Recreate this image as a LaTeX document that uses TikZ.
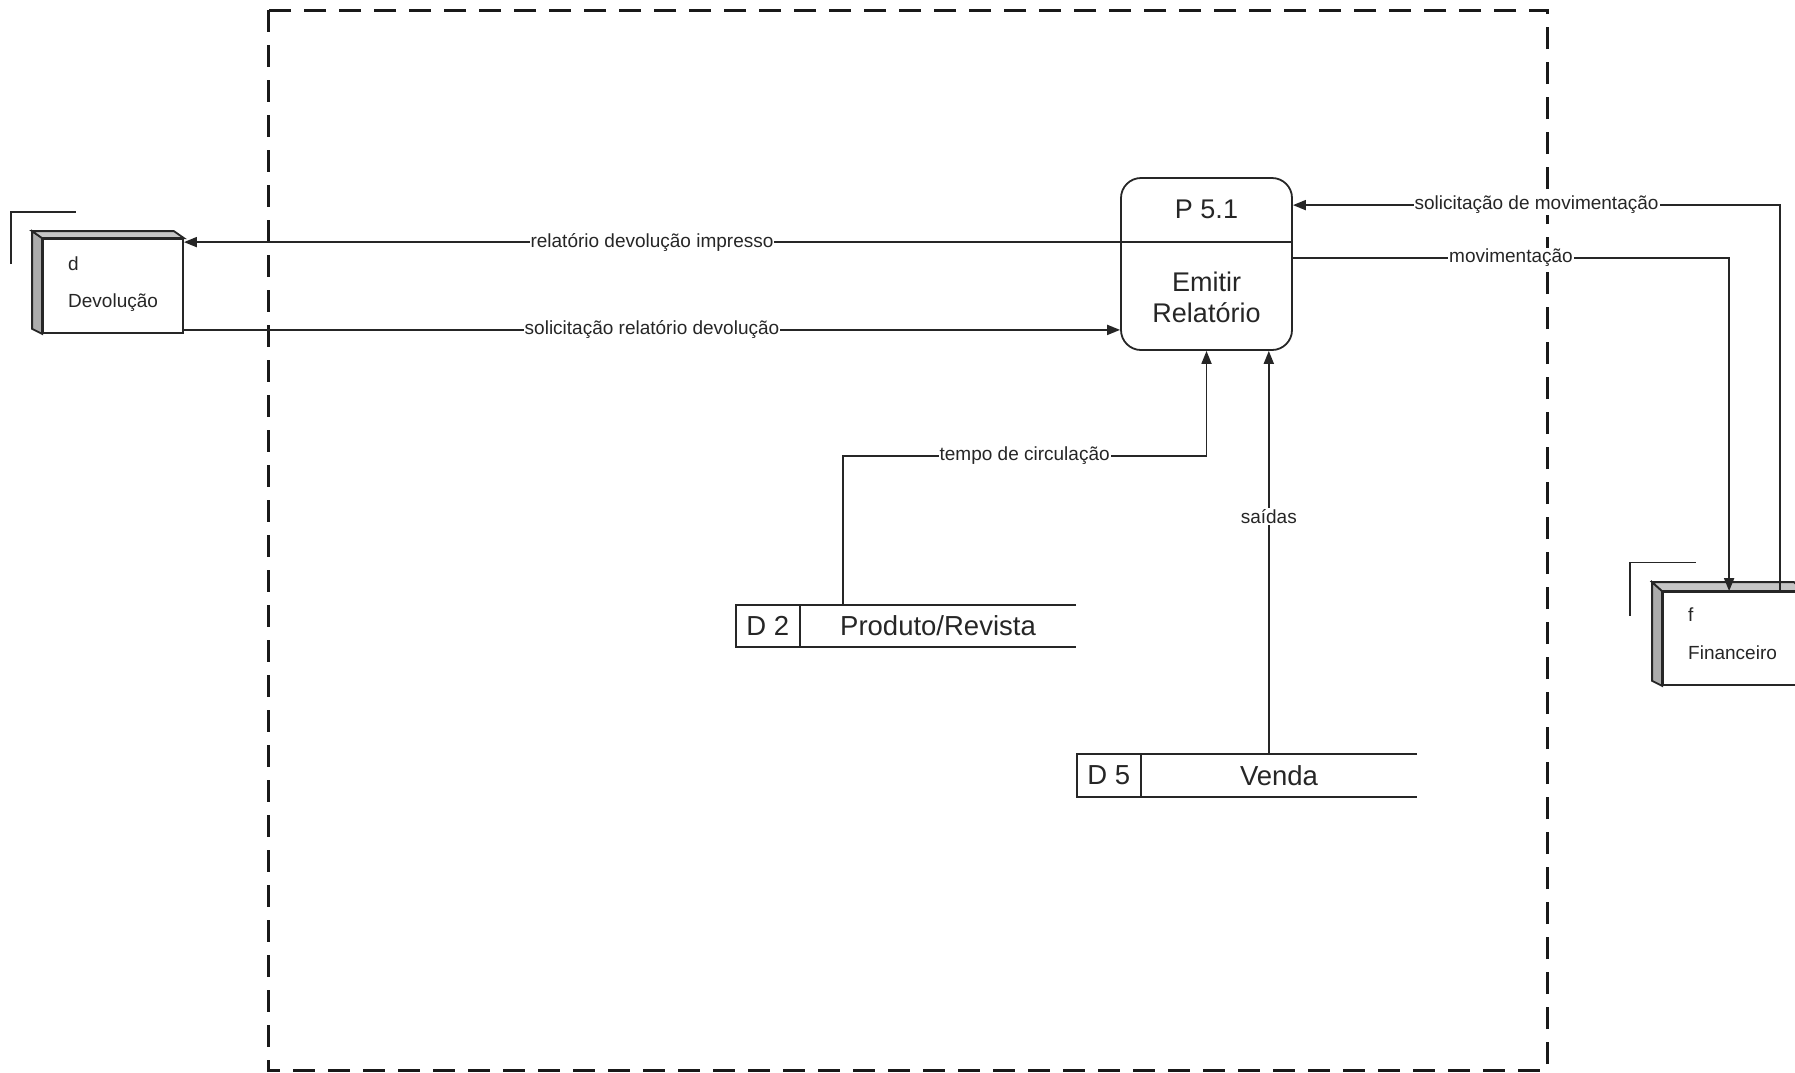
\documentclass[tikz,border=0pt]{standalone}
\usepackage{fontspec}
\setmainfont{Liberation Sans}
\usetikzlibrary{arrows.meta}
\begin{document}
\begin{tikzpicture}[x=1pt,y=-1pt,
  ink/.style={draw=black!85, line width=1.8pt},
  flow/.style={ink, -{Triangle[length=13pt,width=10pt]}},
  lbl/.style={fill=white, inner sep=1pt, font=\fontsize{19}{22}\selectfont, text=black!85},
  entfront/.style={ink, fill=white, minimum width=140pt, minimum height=94pt, inner sep=0pt},
  enttxt/.style={anchor=base west, inner sep=0pt, font=\fontsize{19}{22}\selectfont, text=black!85},
  storebox/.style={minimum width=340pt, minimum height=42pt, inner sep=0pt},
  storetxt/.style={inner sep=0pt, font=\fontsize{27.5}{31}\selectfont, text=black!85},
  proctxt/.style={inner sep=0pt, align=center, font=\fontsize{27}{31}\selectfont, text=black!85},
  sidefill/.style={ink, fill=gray!65},
  topfill/.style={ink, fill=gray!45}
]
\useasboundingbox (0,0) rectangle (1795,1072);
\clip (0,0) rectangle (1795,1072);

% system boundary
\draw[draw=black!90, line width=3pt, dash pattern=on 22pt off 13pt] (268,10) rectangle (1547,1070);

% process
\node[ink, rounded corners=20pt, minimum width=171pt, minimum height=172pt, inner sep=0pt] (proc) at (1206.5,264) {};
\node[proctxt] (pid) at ([yshift=-32pt]proc.north) {P 5.1};
\node[proctxt] (pname) at ([yshift=-120pt]proc.north) {Emitir\\Relatório};
\coordinate (pdiv) at ([yshift=-65pt]proc.north west);
\draw[ink] (pdiv) -- (pdiv -| proc.east);

% external entity Devolucao
\node[entfront] (dev) at (113,286) {};
\draw[sidefill] (dev.north west) -- ++(-10,-7) -- ([shift={(-10,-5)}]dev.south west) -- (dev.south west) -- cycle;
\draw[topfill] (dev.north west) -- ++(-10,-7) -- ([shift={(-10,-7)}]dev.north east) -- (dev.north east) -- cycle;
\draw[ink] ([shift={(-31,-22)}]dev.west) -- ([shift={(-31,-74)}]dev.west) -- ([shift={(34,-74)}]dev.west);
\node[enttxt] (devc) at (68,270) {d};
\node[enttxt] (devn) at (68,307) {Devolução};

% external entity Financeiro
\node[entfront, minimum height=93pt] (fin) at (1733,638.5) {};
\draw[sidefill] (fin.north west) -- ++(-10,-9) -- ([shift={(-10,-5)}]fin.south west) -- (fin.south west) -- cycle;
\draw[topfill] (fin.north west) -- ++(-10,-9) -- ([shift={(-10,-9)}]fin.north east) -- (fin.north east) -- cycle;
\draw[ink] ([shift={(-32,-23)}]fin.west) -- ([shift={(-32,-76)}]fin.west) -- ([shift={(34,-76)}]fin.west);
\node[enttxt] (finc) at (1688,621) {f};
\node[enttxt] (finn) at (1688,659) {Financeiro};

% data store D2
\node[storebox] (d2) at (906,626) {};
\draw[ink] (d2.north east) -- (d2.north west) -- (d2.south west) -- (d2.south east);
\draw[ink] ([xshift=64pt]d2.north west) -- ([xshift=64pt]d2.south west);
\node[storetxt] (d2id) at ([xshift=32pt]d2.west) {D 2};
\node[storetxt] (d2n) at ([xshift=32pt]d2.center) {Produto/Revista};

% data store D5
\node[storebox, minimum height=43pt] (d5) at (1247,775.5) {};
\draw[ink] (d5.north east) -- (d5.north west) -- (d5.south west) -- (d5.south east);
\draw[ink] ([xshift=64pt]d5.north west) -- ([xshift=64pt]d5.south west);
\node[storetxt] (d5id) at ([xshift=32pt]d5.west) {D 5};
\node[storetxt] (d5n) at ([xshift=32pt]d5.center) {Venda};

% flows
\draw[flow] (pdiv) -- (pdiv -| dev.east) node[lbl, midway] {relatório devolução impresso};

\coordinate (dsr) at ([yshift=4pt]dev.south east);
\draw[flow] (dsr) -- (dsr -| proc.west) node[lbl, midway] {solicitação relatório devolução};

\coordinate (fs) at ([xshift=118pt]fin.north west);
\coordinate (pe1) at ([yshift=-28pt]proc.north east);
\draw[flow] (fs) |- (pe1) node[lbl, pos=0.75] {solicitação de movimentação};

\coordinate (pe2) at ([yshift=-81pt]proc.north east);
\coordinate (ft) at ([xshift=67pt]fin.north west);
\draw[flow] (pe2) -| (ft) node[lbl, pos=0.25] {movimentação};

\coordinate (t2) at ([xshift=107pt]d2.north west);
\draw[flow] (t2) -- ++(0,-149) -| (proc.south) node[lbl, pos=0.25] {tempo de circulação};

\coordinate (s5) at ([xshift=192pt]d5.north west);
\draw[flow] (s5) -- (s5 |- proc.south) node[lbl, pos=0.589] {saídas};
\end{tikzpicture}
\end{document}
